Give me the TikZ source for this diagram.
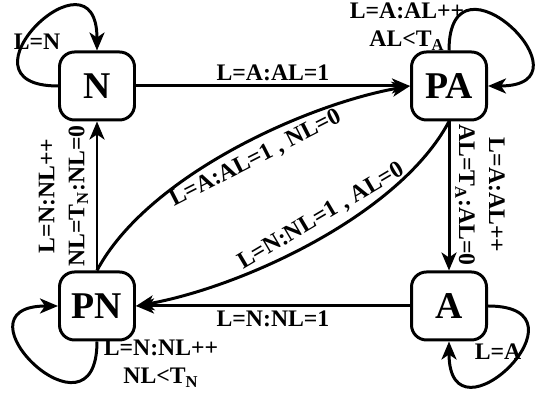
\documentclass[tikz,border=0pt]{standalone}
\usepackage{fontspec}
\setmainfont{Liberation Serif}
\usetikzlibrary{arrows.meta}

\begin{document}
\begin{tikzpicture}[
    state/.style={draw,rectangle,rounded corners=0.3cm,line width=1.7pt,minimum width=1.5cm,minimum height=1.36cm,font=\fontsize{21.5}{24}\selectfont\bfseries},
    trans/.style={-{Stealth[length=0.36cm,width=0.3cm,inset=0.1cm]},line width=1.7pt},
    lbl/.style={font=\fontsize{13.5}{16}\selectfont\bfseries,align=center,inner sep=2pt}
]
    \useasboundingbox (0,0) rectangle (10.8,7.98);

    % states
    \node[state] (N) at (1.94,6.26) {N};
    \node[state] (PA) at (8.98,6.26) {PA};
    \node[state] (PN) at (1.94,1.86) {PN};
    \node[state] (A) at (8.98,1.86) {A};

    % transitions between states
    \draw[trans] (N) -- (PA) node[lbl,midway,above] (lNPA) {L=A:AL=1};
    \draw[trans] (PA) -- (A);
    \draw[trans] (A) -- (PN) node[lbl,midway,below] (lAPN) {L=N:NL=1};
    \draw[trans] (PN) -- (N);
    \draw[trans] (PN.north) to[out=62,in=190,looseness=0.75] node[lbl,pos=0.54,sloped,below,inner sep=4pt] (lPNPA) {L=A:AL=1 , NL=0} (PA.west);
    \draw[trans] (PA.south) to[out=242,in=10,looseness=0.75] node[lbl,pos=0.45,sloped,above,inner sep=4pt] (lPAPN) {L=N:NL=1 , AL=0} (PN.east);

    % self loops
    \draw[trans] (N.west) .. controls +(180:2.2) and +(90:2.2) .. (N.north);
    \draw[trans] (PA.north) .. controls +(90:2.2) and +(0:2.2) .. (PA.east);
    \draw[trans] (PN.south) .. controls +(-90:2.2) and +(180:2.2) .. (PN.west);
    \draw[trans] (A.east) .. controls +(0:2.2) and +(-90:2.2) .. (A.south);

    % labels
    \node[lbl] (lN) at (0.74,7.14) {L=N};
    \node[lbl] (lPA) at (8.14,7.44) {L=A:AL++\\AL<T\textsubscript{A}};
    \node[lbl] (lPN) at (3.22,0.70) {L=N:NL++\\NL<T\textsubscript{N}};
    \node[lbl] (lA) at (9.96,0.94) {L=A};
    \node[lbl,rotate=90] (lPNN) at (1.27,4.06) {L=N:NL++\\[1pt]NL=T\textsubscript{N}:NL=0};
    \node[lbl,rotate=-90] (lPAA) at (9.60,4.08) {L=A:AL++\\[1pt]AL=T\textsubscript{A}:AL=0};
\end{tikzpicture}
\end{document}
